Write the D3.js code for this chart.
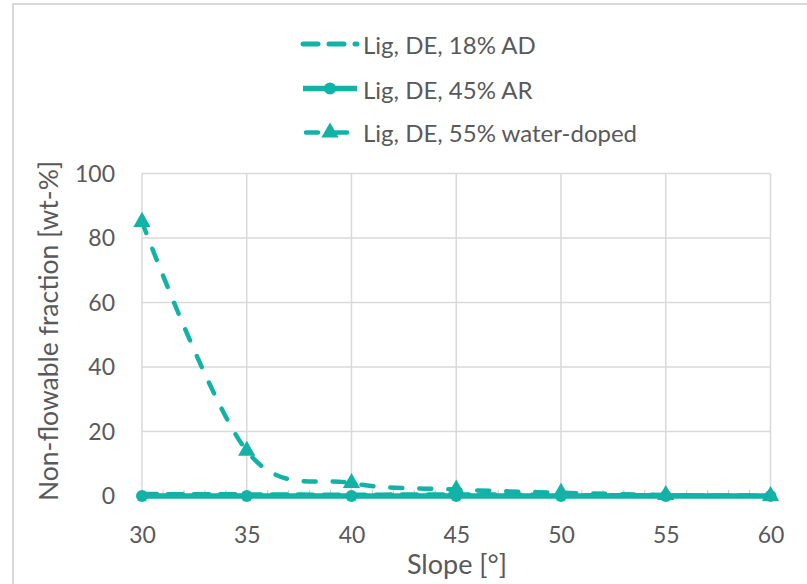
<!DOCTYPE html>
<html>
<head>
<meta charset="utf-8">
<script src="https://cdn.jsdelivr.net/npm/d3@7"></script>
<style>
  html, body { margin: 0; padding: 0; background: #ffffff; }
  svg { display: block; }
  text { font-family: Lato, "Open Sans", sans-serif; fill: #595959; }
</style>
</head>
<body>
<svg id="chart" width="807" height="584"></svg>
<script>
// Slope angles [°]
const slopes = [30, 35, 40, 45, 50, 55, 60];
// Non-flowable fraction [wt-%] per material
const lig18AD = [0.6, 0.5, 0.4, 0.5, 0.3, 0.2, 0.1];
const lig45AR = [0, 0, 0, 0, 0, 0, 0];
const lig55WaterDoped = [85, 14, 4, 2, 1, 0.3, 0];

const seriesNames = ["Lig, DE, 18% AD", "Lig, DE, 45% AR", "Lig, DE, 55% water-doped"];
const xTicks = [30, 35, 40, 45, 50, 55, 60];
const yTicks = [0, 20, 40, 60, 80, 100];
const xTitle = "Slope [°]";
const yTitle = "Non-flowable fraction [wt-%]";

const teal = "#12B2A6";
const grid = "#d9d9d9";

const svg = d3.select("#chart");

// outer chart frame
svg.append("rect")
  .attr("x", 13).attr("y", 4)
  .attr("width", 820).attr("height", 600)
  .attr("fill", "none").attr("stroke", grid).attr("stroke-width", 2);

const x = d3.scaleLinear().domain([30, 60]).range([142, 770.5]);
const y = d3.scaleLinear().domain([0, 100]).range([496, 173.5]);

// gridlines
const g = svg.append("g");
g.selectAll("line.vg").data(xTicks).join("line")
  .attr("x1", d => x(d)).attr("x2", d => x(d))
  .attr("y1", y(0)).attr("y2", y(100))
  .attr("stroke", grid).attr("stroke-width", 1.5);
g.selectAll("line.hg").data(yTicks).join("line")
  .attr("x1", x(30)).attr("x2", x(60))
  .attr("y1", d => y(d)).attr("y2", d => y(d))
  .attr("stroke", grid).attr("stroke-width", 1.5);

// minor ticks on the slope axis
const minor = d3.range(31, 60).filter(d => d % 5 !== 0);
g.selectAll("line.mt").data(minor).join("line")
  .attr("x1", d => x(d)).attr("x2", d => x(d))
  .attr("y1", y(0) - 6).attr("y2", y(0))
  .attr("stroke", "#c8c8c8").attr("stroke-width", 1);

// axis tick labels (axis lines hidden)
const xAxis = svg.append("g").attr("transform", `translate(0,${y(0)})`)
  .call(d3.axisBottom(x).tickValues(xTicks).tickSize(0).tickPadding(0));
xAxis.select(".domain").remove();
xAxis.selectAll("text")
  .attr("dy", null).attr("y", 47)
  .style("font-size", "23px").style("font-family", "Lato").attr("fill", "#595959");

const yAxis = svg.append("g").attr("transform", `translate(115,0)`)
  .call(d3.axisLeft(y).tickValues(yTicks).tickSize(0).tickPadding(0));
yAxis.select(".domain").remove();
yAxis.selectAll("text")
  .attr("dy", "0.34em").attr("x", 0)
  .style("font-size", "23px").style("font-family", "Lato").attr("fill", "#595959");

svg.append("text")
  .attr("x", 457).attr("y", 574)
  .attr("text-anchor", "middle")
  .style("font-size", "27px")
  .text(xTitle);

svg.append("text")
  .attr("transform", `translate(58,331) rotate(-90)`)
  .attr("text-anchor", "middle")
  .style("font-size", "26.5px")
  .text(yTitle);

// series
const pts = vals => slopes.map((s, i) => [s, vals[i]]);
const smooth = d3.line().x(d => x(d[0])).y(d => y(d[1])).curve(d3.curveCardinal.tension(0));
const straight = d3.line().x(d => x(d[0])).y(d => y(d[1]));

const plot = svg.append("g");

// 18% AD, dashed, smoothed
plot.append("path")
  .attr("d", smooth(pts(lig18AD)))
  .attr("fill", "none").attr("stroke", teal).attr("stroke-width", 4.5)
  .attr("stroke-dasharray", "15 11").attr("stroke-linecap", "round");

// 45% AR, solid with circles
plot.append("path")
  .attr("d", straight(pts(lig45AR)))
  .attr("fill", "none").attr("stroke", teal).attr("stroke-width", 5.5);
plot.selectAll("circle.ar").data(pts(lig45AR)).join("circle")
  .attr("cx", d => x(d[0])).attr("cy", d => y(d[1])).attr("r", 6)
  .attr("fill", teal);

// 55% water-doped, dashed with triangles, smoothed
plot.append("path")
  .attr("d", smooth(pts(lig55WaterDoped)))
  .attr("fill", "none").attr("stroke", teal).attr("stroke-width", 4.5)
  .attr("stroke-dasharray", "12 17").attr("stroke-linecap", "round");
const tri = d3.symbol().type(d3.symbolTriangle).size(130);
plot.selectAll("path.wd").data(pts(lig55WaterDoped)).join("path")
  .attr("transform", d => `translate(${x(d[0])},${y(d[1])})`)
  .attr("d", tri).attr("fill", teal);

// legend
const legY = [44, 88.5, 132.5];
const lx0 = 303, lx1 = 357;
const leg = svg.append("g");
leg.append("line").attr("x1", lx0).attr("x2", lx1).attr("y1", legY[0]).attr("y2", legY[0])
  .attr("stroke", teal).attr("stroke-width", 5)
  .attr("stroke-dasharray", "15 11").attr("stroke-linecap", "round");
leg.append("line").attr("x1", lx0).attr("x2", lx1).attr("y1", legY[1]).attr("y2", legY[1])
  .attr("stroke", teal).attr("stroke-width", 5.5);
leg.append("circle").attr("cx", (lx0 + lx1) / 2).attr("cy", legY[1]).attr("r", 6).attr("fill", teal);
leg.append("line").attr("x1", lx0 + 3).attr("x2", lx1 - 4).attr("y1", legY[2]).attr("y2", legY[2])
  .attr("stroke", teal).attr("stroke-width", 4.5)
  .attr("stroke-dasharray", "12 17").attr("stroke-linecap", "round");
leg.append("path").attr("transform", `translate(${(lx0 + lx1) / 2},${legY[2]})`)
  .attr("d", tri).attr("fill", teal);
leg.selectAll("text").data(seriesNames).join("text")
  .attr("x", 363).attr("y", (d, i) => [53.5, 98.5, 142][i])
  .style("font-size", "24px")
  .text(d => d);
</script>
</body>
</html>
